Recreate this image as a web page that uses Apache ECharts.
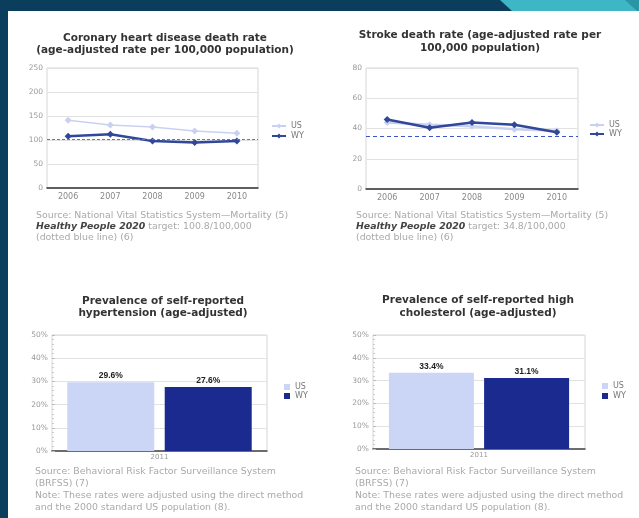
<!DOCTYPE html>
<html>
<head>
<meta charset="utf-8">
<script src="https://cdn.jsdelivr.net/npm/echarts@6/dist/echarts.min.js"></script>
<style>
html, body { margin: 0; padding: 0; background: #0b3d5c; }
#chart { width: 639px; height: 518px; }
</style>
</head>
<body>
<div id="chart"></div>
<script>
// Heart disease and stroke indicators, US vs WY
const years = ['2006', '2007', '2008', '2009', '2010'];
const chdUS = [141, 131, 127, 119, 114];
const chdWY = [108, 112, 98, 95, 98];
const chdTarget = 100.8;

const strokeUS = [44, 42.5, 41.5, 39.5, 38.5];
const strokeWY = [46, 40.5, 44, 42.5, 37.5];
const strokeTarget = 34.8;

const surveyYears = ['2011'];
const hypertensionUS = [29.6];
const hypertensionWY = [27.6];
const cholesterolUS = [33.4];
const cholesterolWY = [31.1];

const FONT = 'DejaVu Sans';
const US_LINE = '#c9d1f1';
const WY_LINE = '#30479a';
const US_BAR = '#cbd6f6';
const WY_BAR = '#1b2a8e';

const chart = echarts.init(document.getElementById('chart'), null, { renderer: 'canvas' });

function titleAt(text, x, y, lh) {
  return {
    text: text, left: x, top: y, textAlign: 'center', padding: 0,
    textStyle: { fontFamily: FONT, fontSize: 10.5, fontWeight: 'bold', color: '#333', lineHeight: lh }
  };
}

function lineX(gi) {
  return {
    type: 'category', gridIndex: gi, data: years,
    axisLine: { lineStyle: { color: '#333', width: 1.5 } },
    axisTick: { show: false },
    axisLabel: { fontFamily: FONT, fontSize: 8, color: '#888', margin: 5 }
  };
}
function barX(gi) {
  return {
    type: 'category', gridIndex: gi, data: surveyYears,
    axisLine: { lineStyle: { color: '#444', width: 1.5 } },
    axisTick: { show: false },
    axisLabel: { fontFamily: FONT, fontSize: 7, color: '#999', margin: 3 }
  };
}
function valueY(gi, max, interval, fmt) {
  return {
    type: 'value', gridIndex: gi, min: 0, max: max, interval: interval,
    axisLine: { show: false },
    axisTick: { show: false },
    splitLine: { lineStyle: { color: '#e2e2e2', width: 1 } },
    axisLabel: { fontFamily: FONT, fontSize: 7.5, color: '#999', margin: 4, formatter: fmt || '{value}' }
  };
}

function noteText(x, y, text, lh) {
  return {
    type: 'text', x: x, y: y, z: 5,
    style: {
      text: text, fill: '#a9a9a9', font: '9.4px "' + FONT + '"', lineHeight: lh,
      rich: { b: { fontFamily: FONT, fontSize: 9.4, fontWeight: 'bold', fontStyle: 'italic', fill: '#444', lineHeight: lh } }
    }
  };
}

const splitName = n => n.split('|')[0];
const legendText = { fontFamily: FONT, fontSize: 8, color: '#777' };
const barLabel = { show: true, position: 'top', distance: 2, formatter: '{c}%',
  fontFamily: 'Liberation Sans', fontSize: 8.5, fontWeight: 'bold', color: '#222' };

const option = {
  animation: false,
  backgroundColor: '#0b3d5c',
  textStyle: { fontFamily: FONT },
  graphic: [
    { type: 'rect', z: -100, shape: { x: 8, y: 11, width: 631, height: 507 }, style: { fill: '#ffffff' } },
    { type: 'polygon', z: -99, shape: { points: [[500, 0], [639, 0], [639, 11], [512, 11]] }, style: { fill: '#3db6c5' } },
    { type: 'polygon', z: -98, shape: { points: [[625, 0], [639, 0], [639, 11], [637, 11]] }, style: { fill: '#2a96a5' } },
    noteText(36, 210, 'Source: National Vital Statistics System\u2014Mortality (5)\n{b|Healthy People 2020} target: 100.8/100,000\n(dotted blue line) (6)', 11),
    noteText(356, 210, 'Source: National Vital Statistics System\u2014Mortality (5)\n{b|Healthy People 2020} target: 34.8/100,000\n(dotted blue line) (6)', 11),
    noteText(35, 466, 'Source: Behavioral Risk Factor Surveillance System\n(BRFSS) (7)\nNote: These rates were adjusted using the direct method\nand the 2000 standard US population (8).', 12),
    noteText(355, 466, 'Source: Behavioral Risk Factor Surveillance System\n(BRFSS) (7)\nNote: These rates were adjusted using the direct method\nand the 2000 standard US population (8).', 12)
  ],
  title: [
    titleAt('Coronary heart disease death rate\n(age-adjusted rate per 100,000 population)', 165, 32, 12.5),
    titleAt('Stroke death rate (age-adjusted rate per\n100,000 population)', 480, 29, 13),
    titleAt('Prevalence of self-reported\nhypertension (age-adjusted)', 163, 295, 12.5),
    titleAt('Prevalence of self-reported high\ncholesterol (age-adjusted)', 478, 294, 13)
  ],
  legend: [
    { orient: 'vertical', left: 266, top: 117, itemWidth: 14, itemHeight: 6, itemGap: 2,
      data: ['US', 'WY'], textStyle: legendText },
    { orient: 'vertical', left: 584, top: 116, itemWidth: 14, itemHeight: 6, itemGap: 1,
      data: ['US', 'WY'], textStyle: legendText },
    { orient: 'vertical', left: 279, top: 378, icon: 'rect', itemWidth: 6, itemHeight: 6, itemGap: 1,
      data: ['US|bar', 'WY|bar'], formatter: splitName, textStyle: legendText },
    { orient: 'vertical', left: 597, top: 377, icon: 'rect', itemWidth: 6, itemHeight: 6, itemGap: 2,
      data: ['US|bar', 'WY|bar'], formatter: splitName, textStyle: legendText }
  ],
  grid: [
    { left: 47, top: 68, width: 211, height: 120, show: true, borderColor: '#d6d6d6', borderWidth: 1 },
    { left: 366, top: 68, width: 212, height: 121, show: true, borderColor: '#d6d6d6', borderWidth: 1 },
    { left: 52, top: 335, width: 215, height: 116, show: true, borderColor: '#d6d6d6', borderWidth: 1 },
    { left: 373, top: 335, width: 212, height: 114, show: true, borderColor: '#d6d6d6', borderWidth: 1 }
  ],
  xAxis: [lineX(0), lineX(1), barX(2), barX(3)],
  yAxis: [
    valueY(0, 250, 50),
    valueY(1, 80, 20),
    Object.assign(valueY(2, 50, 10, '{value}%'), {
      axisTick: { show: true, inside: true, length: 3, lineStyle: { color: '#bbb' } },
      minorTick: { show: true, splitNumber: 5, length: 2, lineStyle: { color: '#ccc' } }
    }),
    Object.assign(valueY(3, 50, 10, '{value}%'), {
      axisTick: { show: true, inside: true, length: 3, lineStyle: { color: '#bbb' } },
      minorTick: { show: true, splitNumber: 5, length: 2, lineStyle: { color: '#ccc' } }
    })
  ],
  series: [
    { name: 'US', type: 'line', xAxisIndex: 0, yAxisIndex: 0, data: chdUS, z: 2,
      color: US_LINE, lineStyle: { width: 1.5, color: US_LINE },
      symbol: 'diamond', symbolSize: 7, itemStyle: { color: US_LINE } },
    { name: 'WY', type: 'line', xAxisIndex: 0, yAxisIndex: 0, data: chdWY, z: 3,
      color: WY_LINE, lineStyle: { width: 2.5, color: WY_LINE },
      symbol: 'diamond', symbolSize: 7, itemStyle: { color: WY_LINE },
      markLine: { silent: true, symbol: ['none', 'none'], label: { show: false },
        lineStyle: { color: '#5b74d2', type: [3, 2], width: 1 },
        data: [{ yAxis: chdTarget }] } },
    { name: 'US', type: 'line', xAxisIndex: 1, yAxisIndex: 1, data: strokeUS, z: 2,
      color: US_LINE, lineStyle: { width: 2.5, color: US_LINE },
      symbol: 'diamond', symbolSize: 7, itemStyle: { color: US_LINE } },
    { name: 'WY', type: 'line', xAxisIndex: 1, yAxisIndex: 1, data: strokeWY, z: 3,
      color: WY_LINE, lineStyle: { width: 2.5, color: WY_LINE },
      symbol: 'diamond', symbolSize: 7, itemStyle: { color: WY_LINE },
      markLine: { silent: true, symbol: ['none', 'none'], label: { show: false },
        lineStyle: { color: '#3d55c8', type: [4, 3], width: 1.2 },
        data: [{ yAxis: strokeTarget }] } },
    { name: 'US|bar', type: 'bar', xAxisIndex: 2, yAxisIndex: 2, data: hypertensionUS,
      barWidth: 87, barGap: '12%', itemStyle: { color: US_BAR }, label: barLabel },
    { name: 'WY|bar', type: 'bar', xAxisIndex: 2, yAxisIndex: 2, data: hypertensionWY,
      barWidth: 87, barGap: '12%', itemStyle: { color: WY_BAR }, label: barLabel },
    { name: 'US|bar', type: 'bar', xAxisIndex: 3, yAxisIndex: 3, data: cholesterolUS,
      barWidth: 85, barGap: '12%', itemStyle: { color: US_BAR }, label: barLabel },
    { name: 'WY|bar', type: 'bar', xAxisIndex: 3, yAxisIndex: 3, data: cholesterolWY,
      barWidth: 85, barGap: '12%', itemStyle: { color: WY_BAR }, label: barLabel }
  ]
};

chart.setOption(option);
</script>
</body>
</html>
